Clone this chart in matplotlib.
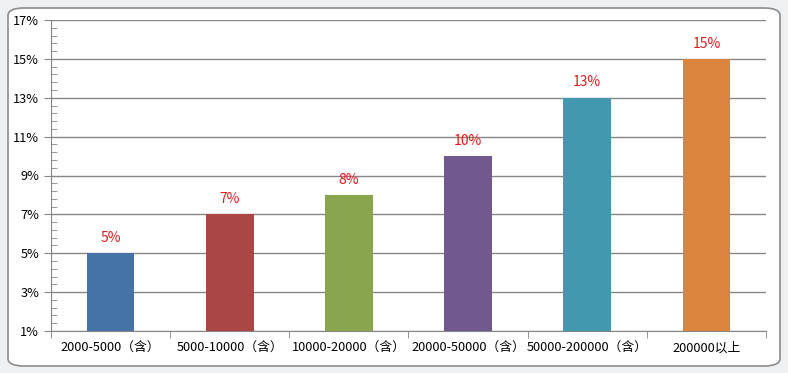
import matplotlib.pyplot as plt
from matplotlib.patches import FancyBboxPatch
from matplotlib.ticker import FixedLocator, FuncFormatter

plt.rcParams['font.family'] = ['Noto Sans CJK SC', 'DejaVu Sans']

categories = ["2000-5000（含）", "5000-10000（含）", "10000-20000（含）",
              "20000-50000（含）", "50000-200000（含）", "200000以上"]
values = [5, 7, 8, 10, 13, 15]
colors = ["#4572A7", "#AA4643", "#89A54E", "#71588F", "#4198AF", "#DB843D"]
y_ticks = [1, 3, 5, 7, 9, 11, 13, 15, 17]


def main():
    fig = plt.figure(figsize=(7.88, 3.73), dpi=100)
    fig.patch.set_facecolor("#eef0f2")

    frame = FancyBboxPatch((8 / 788, 7 / 373), 772 / 788, 358 / 373,
                           boxstyle="round,pad=0,rounding_size=0.02",
                           transform=fig.transFigure, facecolor="white",
                           edgecolor="#8c8c8c", linewidth=1.2, zorder=-1)
    fig.patches.append(frame)

    ax = fig.add_axes([51 / 788, 1 - 331 / 373, 715 / 788, 311 / 373])
    ax.set_zorder(2)
    ax.set_facecolor("none")

    x = list(range(len(categories)))
    base = y_ticks[0]
    ax.bar(x, [v - base for v in values], bottom=base, width=0.4,
           color=colors, zorder=3)
    for xi, v in zip(x, values):
        ax.annotate(f"{v}%", (xi, v), xytext=(0, 6), textcoords="offset points",
                    ha="center", va="bottom", color="#e8191c", fontsize=10)

    ax.set_xlim(-0.5, len(categories) - 0.5)
    ax.set_ylim(y_ticks[0], y_ticks[-1])
    ax.yaxis.set_major_locator(FixedLocator(y_ticks))
    minor = [y_ticks[0] + 0.4 * i for i in range(int((y_ticks[-1] - y_ticks[0]) / 0.4) + 1)]
    ax.yaxis.set_minor_locator(FixedLocator(minor))
    ax.yaxis.set_major_formatter(FuncFormatter(lambda v, p: f"{v:.0f}%"))
    ax.grid(axis="y", which="major", color="#868686", linewidth=1, zorder=0)

    ax.set_xticks(x)
    ax.set_xticklabels(categories, fontsize=9.2)
    ax.set_xticks([i - 0.5 for i in range(len(categories) + 1)], minor=True)
    ax.tick_params(axis="x", which="major", length=0, pad=8)
    ax.tick_params(axis="x", which="minor", length=5, color="#868686", direction="out")
    ax.tick_params(axis="y", which="major", length=5, color="#868686",
                   direction="out", labelsize=9.2)
    ax.tick_params(axis="y", which="minor", length=4, color="#868686", direction="in")

    for side in ("top", "right"):
        ax.spines[side].set_visible(False)
    for side in ("left", "bottom"):
        ax.spines[side].set_color("#868686")

    fig.savefig("out.png", dpi=100, facecolor=fig.get_facecolor())


if __name__ == "__main__":
    main()
